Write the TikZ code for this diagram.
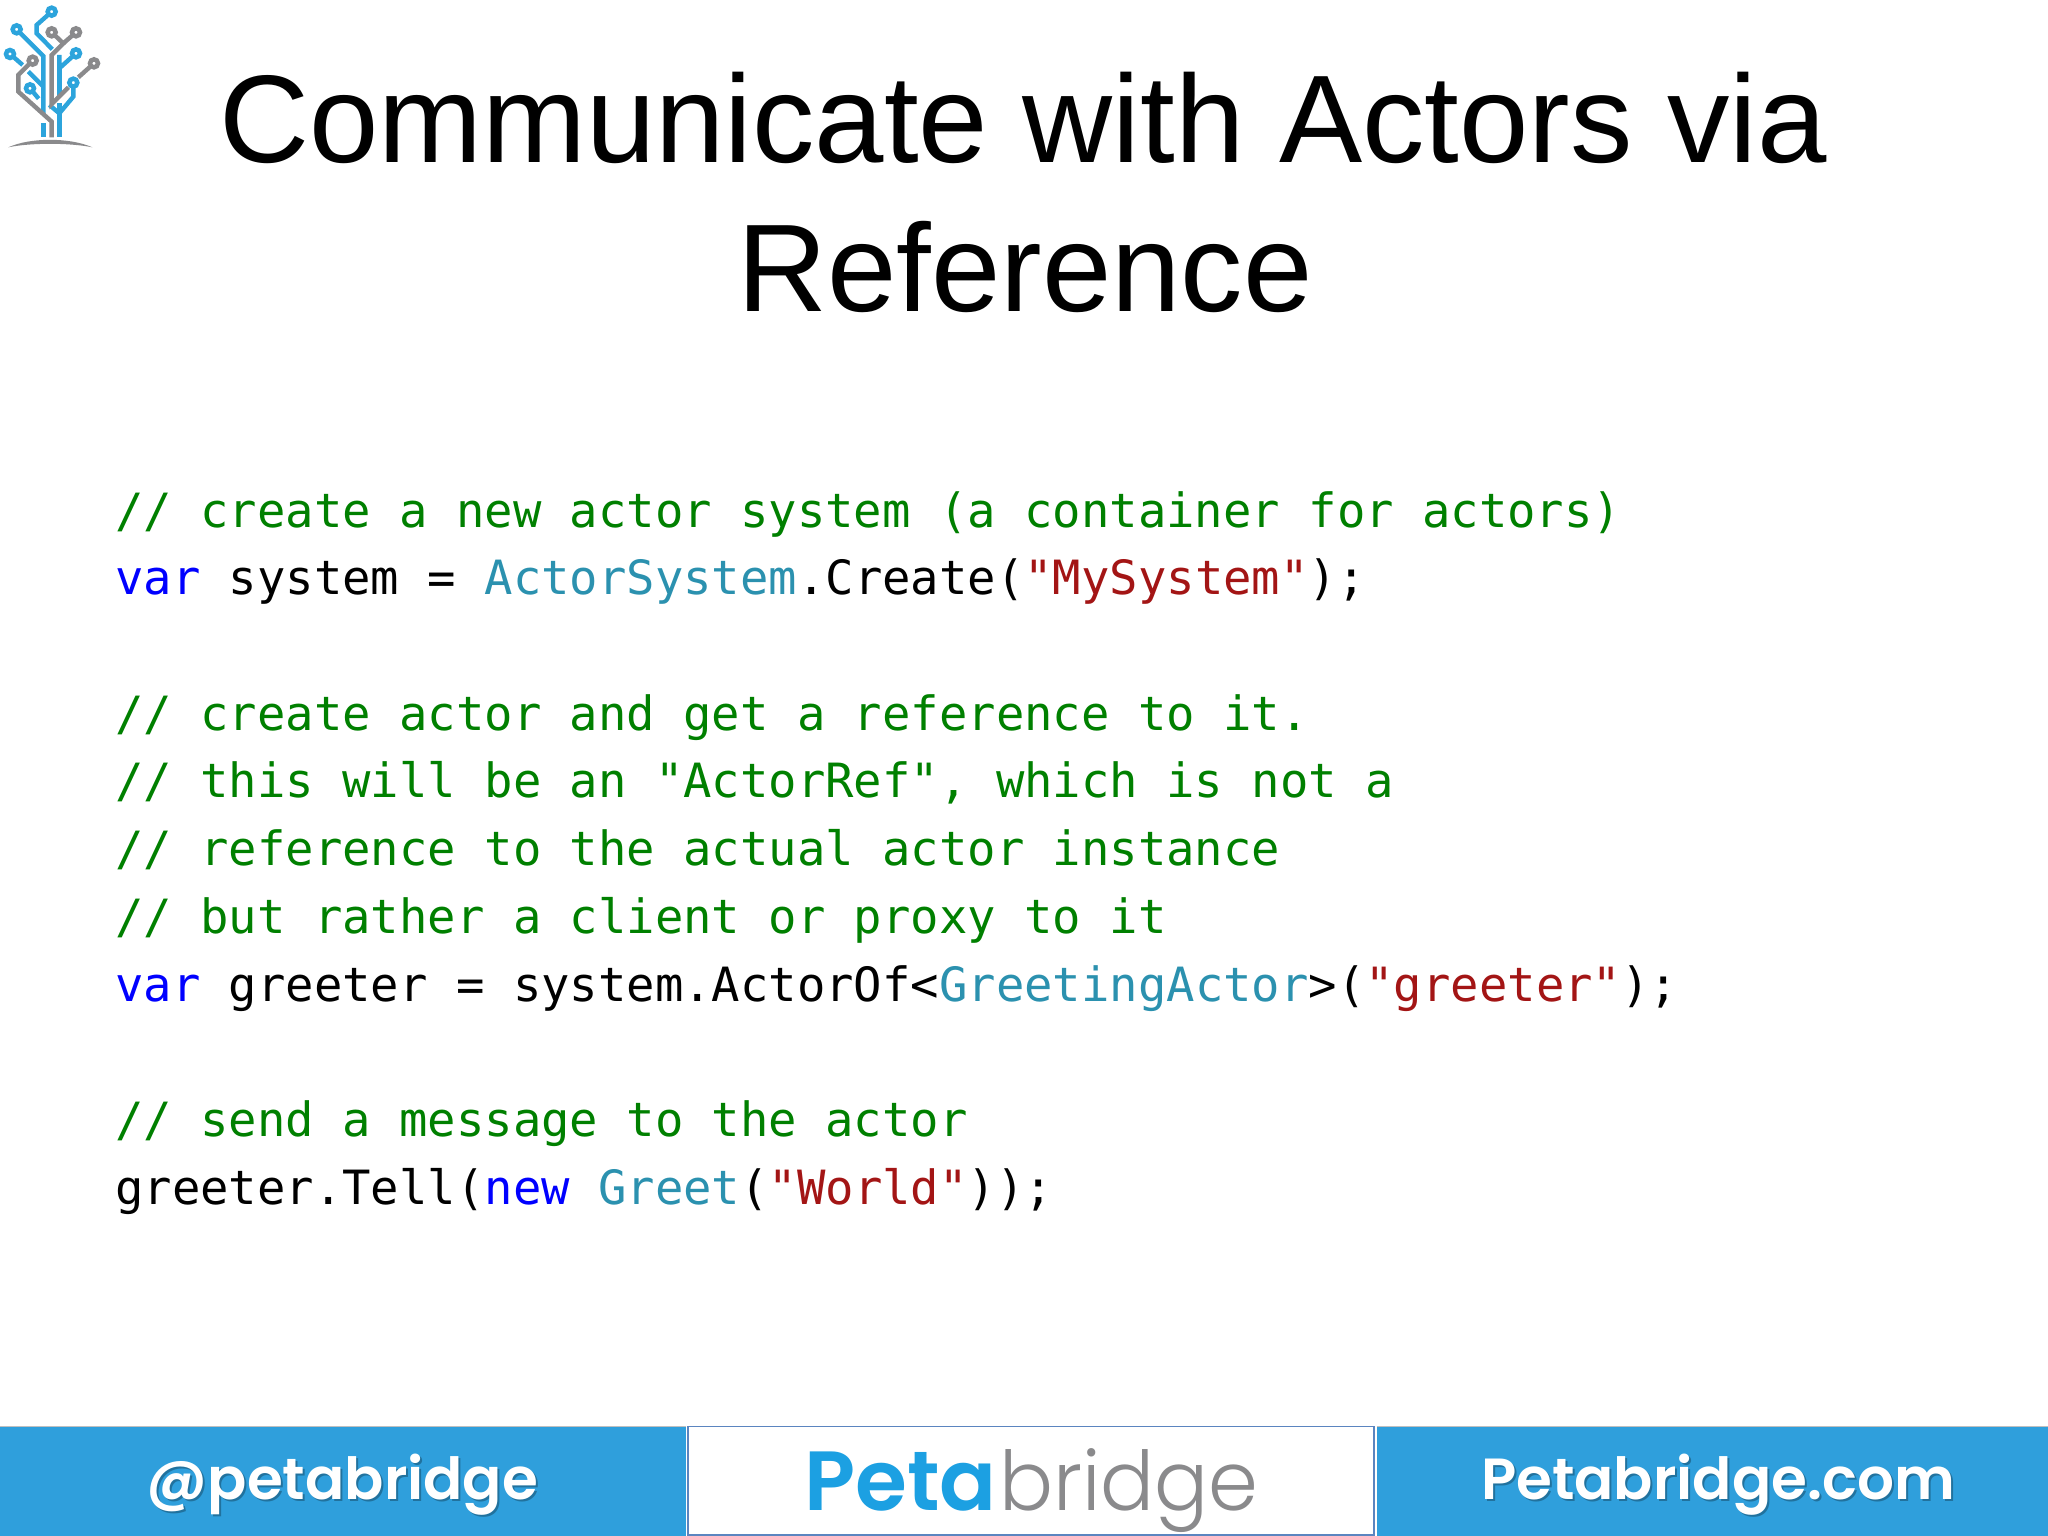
\documentclass[tikz,border=0pt]{standalone}
\usepackage{fontspec}
\setmainfont{Liberation Sans}
\newfontfamily\codef{DejaVu Sans Mono}
\newfontfamily\popb[UprightFont={* SemiBold}]{Poppins}
\newfontfamily\popl[UprightFont={* Light}]{Poppins}
\definecolor{cgreen}{HTML}{008000}
\definecolor{cblue}{HTML}{0000FF}
\definecolor{cteal}{HTML}{2B91AF}
\definecolor{cred}{HTML}{A31515}
\definecolor{barblue}{HTML}{2F9FDC}
\definecolor{logoblue}{HTML}{2CA4DC}
\definecolor{logogray}{HTML}{8A8A8C}
\definecolor{petablue}{HTML}{1CA0E2}
\definecolor{boxedge}{HTML}{5B85C0}
\newcommand{\kw}[1]{\textcolor{cblue}{#1}}
\newcommand{\ty}[1]{\textcolor{cteal}{#1}}
\newcommand{\st}[1]{\textcolor{cred}{#1}}
\tikzset{
  titletext/.style={inner sep=0,anchor=base,font=\fontsize{124.7}{130}\selectfont,text=black},
  codeline/.style={inner sep=0,anchor=base west,font=\codef\fontsize{47.2}{50}\selectfont,text=black},
  comment/.style={codeline,text=cgreen},
  foot/.style={inner sep=0,anchor=base,font=\popb\fontsize{58}{60}\selectfont,text=white},
  footshadow/.style={foot,text=black!70!barblue,opacity=.4},
  bl/.style={draw=logoblue,line width=4.4pt,line join=miter},
  gr/.style={draw=logogray,line width=4.4pt,line join=miter},
  dotb/.style={circle,draw=logoblue,fill=white,line width=4.5pt,minimum size=8pt,inner sep=0},
  dotg/.style={circle,draw=logogray,fill=white,line width=4.5pt,minimum size=8pt,inner sep=0},
}
\begin{document}
\begin{tikzpicture}[x=1pt,y=-1pt]
\useasboundingbox (0,0) rectangle (2048,1536);
\fill[white] (0,0) rectangle (2048,1536);
% title
\node[titletext] (t1) at (1023,162) {Communicate with Actors via};
\node[titletext] (t2) at (1025,311) {Reference};
% code
\node[comment] (c0) at (115,527) {// create a new actor system (a container for actors)};
\node[codeline] (c1) at (115,594.5) {\kw{var} system = \ty{ActorSystem}.Create(\st{"MySystem"});};
\node[comment] (c3) at (115,730) {// create actor and get a reference to it.};
\node[comment] (c4) at (115,797.7) {// this will be an "ActorRef", which is not a};
\node[comment] (c5) at (115,865.5) {// reference to the actual actor instance};
\node[comment] (c6) at (115,933.2) {// but rather a client or proxy to it};
\node[codeline] (c7) at (115,1001) {\kw{var} greeter = system.ActorOf<\ty{GreetingActor}>(\st{"greeter"});};
\node[comment] (c9) at (115,1136.5) {// send a message to the actor};
\node[codeline] (c10) at (115,1204) {greeter.Tell(\kw{new} \ty{Greet}(\st{"World"}));};
% footer
\fill[barblue] (0,1427) rectangle (686,1536);
\fill[barblue] (1377,1427) rectangle (2048,1536);
\draw[black!25,line width=1pt] (0,1426.5) -- (686,1426.5);
\draw[black!25,line width=1pt] (1377,1426.5) -- (2048,1426.5);
\draw[boxedge,fill=white,line width=1.6pt] (688,1535) rectangle (1374,1426.5);
\node[footshadow] (s1) at (344.5,1501) {@petabridge};
\node[foot] (f1) at (342.5,1499) {@petabridge};
\node[footshadow] (s2) at (1720,1501) {Petabridge.com};
\node[foot] (f2) at (1718,1499) {Petabridge.com};
\node[inner sep=0,anchor=base east,font=\popb\fontsize{84}{88}\selectfont,text=petablue] (p1) at (997,1510) {Peta};
\node[inner sep=0,anchor=base west,font=\popl\fontsize{80}{84}\selectfont,text=logogray] (p2) at (999,1510) {\scalebox{1}[1.03]{bridge}};
% logo (tree of circuit traces)
\begin{scope}[x=.3333pt,y=-.3333pt]
\fill[logogray] (25,442) .. controls (90,412) and (210,412) .. (277,442) .. controls (210,428) and (90,428) .. (25,442) -- cycle;
\draw[bl] (155,35) -- (110,75) -- (110,100) -- (157,148);
\draw[bl] (50,88) -- (130,168) -- (130,345);
\draw[bl] (130,370) -- (130,412);
\draw[bl] (178,165) -- (178,205) -- (228,160);
\draw[bl] (178,205) -- (178,290);
\draw[bl] (30,162) -- (68,195);
\draw[bl] (85,215) -- (130,260);
\draw[bl] (90,265) -- (116,296);
\draw[bl] (220,248) -- (220,290) -- (178,340) -- (148,315);
\draw[bl] (178,310) -- (178,412);
\draw[gr] (155,97) -- (190,130) -- (155,165) -- (155,312) -- (205,262);
\draw[gr] (228,97) -- (190,130);
\draw[gr] (282,190) -- (235,232);
\draw[gr] (98,182) -- (55,225) -- (55,275) -- (155,365) -- (155,412);
\node[dotb] (d1) at (155,35) {};
\node[dotb] (d2) at (50,88) {};
\node[dotb] (d3) at (30,162) {};
\node[dotb] (d4) at (228,160) {};
\node[dotb] (d5) at (220,248) {};
\node[dotb] (d6) at (90,265) {};
\node[dotg] (d7) at (155,97) {};
\node[dotg] (d8) at (228,97) {};
\node[dotg] (d9) at (98,182) {};
\node[dotg] (d10) at (282,190) {};
\end{scope}
\end{tikzpicture}
\end{document}
